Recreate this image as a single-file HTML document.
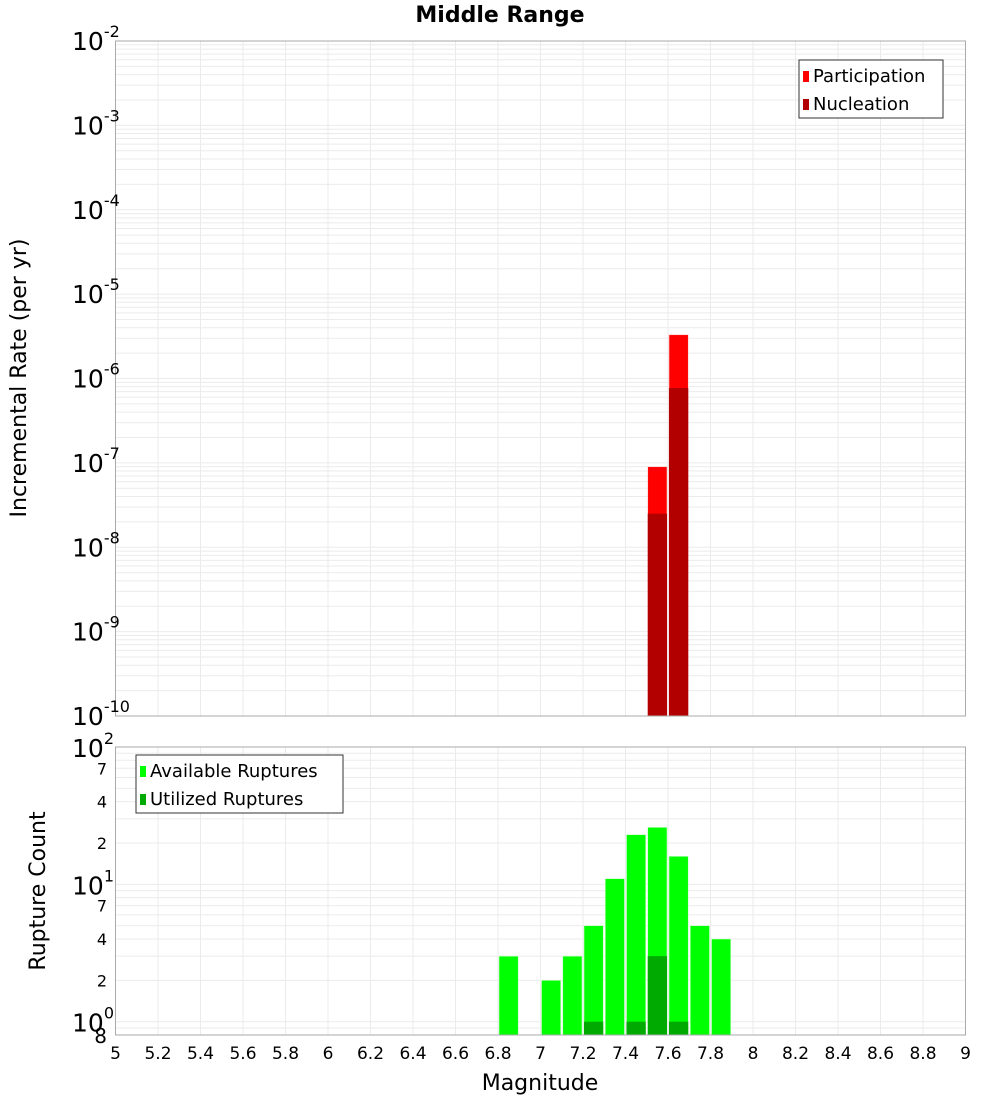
<!DOCTYPE html>
<html><head><meta charset="utf-8"><style>
body{margin:0;background:#fff;width:1000px;height:1100px;overflow:hidden}
svg text{font-family:"DejaVu Sans","Liberation Sans",sans-serif}
</style></head><body>
<svg id="chart" width="1000" height="1100" xmlns="http://www.w3.org/2000/svg"></svg>
<script>
const binCenters = [7.55, 7.65];
const participation = [9e-8, 3.3e-6];
const nucleation = [2.5e-8, 7.7e-7];
const countBins = [6.85, 7.05, 7.15, 7.25, 7.35, 7.45, 7.55, 7.65, 7.75, 7.85];
const available = [3, 2, 3, 5, 11, 23, 26, 16, 5, 4];
const utilizedBins = [7.25, 7.45, 7.55, 7.65];
const utilized = [1, 1, 3, 1];
const xTicks = [5,5.2,5.4,5.6,5.8,6,6.2,6.4,6.6,6.8,7,7.2,7.4,7.6,7.8,8,8.2,8.4,8.6,8.8,9];
const topExps = [-2,-3,-4,-5,-6,-7,-8,-9,-10];
const botMinorLabels = [2,4,7];

const NS="http://www.w3.org/2000/svg", svg=document.getElementById('chart');
function el(t,a,p){const e=document.createElementNS(NS,t);for(const k in a)e.setAttribute(k,a[k]);(p||svg).appendChild(e);return e;}
const L=115.5,R=965.5;
const x=m=>L+(m-5)/4*(R-L);
const T1=41,B1=716, yT=v=>T1+(-2-Math.log10(v))/8*(B1-T1);
const T2=747,B2=1035, lo=Math.log10(0.8), yB=v=>T2+(2-Math.log10(v))/(2-lo)*(B2-T2);

// title
let t=el('text',{x:500,y:22,'text-anchor':'middle','font-size':22,'font-weight':'bold'});
t.textContent='Middle Range';

// grids
const g=el('g',{stroke:'#ebebeb','stroke-width':1});

xTicks.forEach(m=>{el('line',{x1:x(m),x2:x(m),y1:T1,y2:B1},g);el('line',{x1:x(m),x2:x(m),y1:T2,y2:B2},g);});
for(let e=-10;e<-2;e++)for(let k=1;k<10;k++){const yy=yT(k*Math.pow(10,e));el('line',{x1:L,x2:R,y1:yy,y2:yy},g);}
for(let e=-1;e<2;e++)for(let k=1;k<10;k++){const v=k*Math.pow(10,e);if(v<0.8)continue;const yy=yB(v);el('line',{x1:L,x2:R,y1:yy,y2:yy},g);}

// top bars
binCenters.forEach((m,i)=>{
 let r=el('rect',{x:x(m-0.05)+1,y:yT(participation[i]),width:x(m+0.05)-x(m-0.05)-2,height:B1-yT(participation[i]),fill:'#ff0000',stroke:'#ffc8c8','stroke-width':0.6});
 
 r=el('rect',{x:x(m-0.05)+1,y:yT(nucleation[i]),width:x(m+0.05)-x(m-0.05)-2,height:B1-yT(nucleation[i]),fill:'#b20000'});
 
});
// bottom bars
countBins.forEach((m,i)=>{
 const r=el('rect',{x:x(m-0.05)+1,y:yB(available[i]),width:x(m+0.05)-x(m-0.05)-2,height:B2-yB(available[i]),fill:'#00ff00',stroke:'#c8ffc8','stroke-width':0.6});
 
});
utilizedBins.forEach((m,i)=>{
 const r=el('rect',{x:x(m-0.05)+1,y:yB(utilized[i]),width:x(m+0.05)-x(m-0.05)-2,height:B2-yB(utilized[i]),fill:'#00aa00'});
 
});

// frames
let f=el('rect',{x:L,y:T1,width:R-L,height:B1-T1,fill:'none',stroke:'#aaa'});

f=el('rect',{x:L,y:T2,width:R-L,height:B2-T2,fill:'none',stroke:'#aaa'});


// x ticks
xTicks.forEach(m=>{const tt=el('text',{x:x(m),y:1059,'text-anchor':'middle','font-size':17});
 tt.textContent=String(m);});
// top y ticks
topExps.forEach(e=>{const yy=yT(Math.pow(10,e));
 const tt=el('text',{x:72,y:yy+9,'font-size':25});
 
 tt.textContent='10';
 const s=el('tspan',{dy:-13,'font-size':16},tt);s.textContent=String(e);});
// bottom y ticks
[2,1,0].forEach(e=>{const yy=yB(Math.pow(10,e));
 const tt=el('text',{x:72,y:yy+10,'font-size':25});
 
 tt.textContent='10';const s=el('tspan',{dy:-13,'font-size':16},tt);s.textContent=String(e);});
[1,10].forEach(d=>botMinorLabels.forEach(k=>{const tt=el('text',{x:107,y:yB(k*d)+6,'text-anchor':'end','font-size':16});
 tt.textContent=String(k);}));
t=el('text',{x:107,y:B2+8,'text-anchor':'end','font-size':20});t.textContent='8';

// axis titles
t=el('text',{x:540,y:1090,'text-anchor':'middle','font-size':22});t.textContent='Magnitude';
t=el('text',{x:0,y:0,'text-anchor':'middle','font-size':22,transform:'translate(26,378) rotate(-90)'});t.textContent='Incremental Rate (per yr)';
t=el('text',{x:0,y:0,'text-anchor':'middle','font-size':22,transform:'translate(45,891) rotate(-90)'});t.textContent='Rupture Count';

// legends
function legend(name,lx,ly,w,items){
 const lg=el('g',{});
 el('rect',{x:lx,y:ly,width:w,height:58,fill:'#fff',stroke:'#333'},lg);
 items.forEach((it,i)=>{const e=el('g',{},lg);
  el('rect',{x:lx+4,y:ly+11+i*28,width:6,height:11,fill:it[1]},e);
  const tx=el('text',{x:lx+14,y:ly+22+i*28,'font-size':18},e);tx.textContent=it[0];});
}
legend('top-legend',799,60,144,[['Participation','#ff0000'],['Nucleation','#b20000']]);
legend('bottom-legend',136,755,207,[['Available Ruptures','#00ff00'],['Utilized Ruptures','#00aa00']]);
</script>
</body></html>
